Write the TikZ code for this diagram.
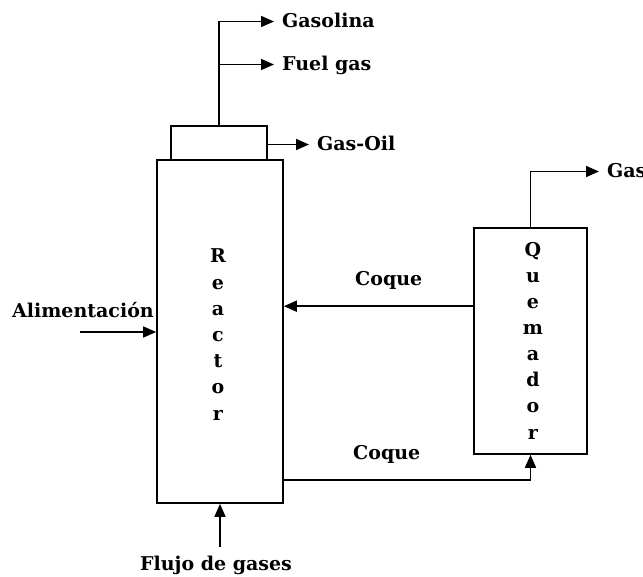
\documentclass[tikz,border=0pt]{standalone}
\usepackage{fontspec}
\setmainfont{DejaVu Serif}
\usetikzlibrary{positioning,arrows.meta,calc}
\tikzset{
  unidad/.style={draw,line width=1.6pt,inner sep=0pt},
  flujo/.style={-{Triangle[length=13pt,width=11pt]},line width=1.6pt},
  etiqueta/.style={font=\bfseries\fontsize{19}{23}\selectfont,text height=13pt,text depth=0pt,inner ysep=0pt,inner xsep=8pt},
  letra/.style={font=\bfseries\fontsize{19}{23}\selectfont,anchor=base,inner sep=0pt}}

\begin{document}
\begin{tikzpicture}[x=1pt,y=-1pt]
  \useasboundingbox (0,0) rectangle (643,577);
  % unidades
  \node[unidad,minimum width=126pt,minimum height=343pt] (reactor) at (220,331.5) {};
  \node[unidad,minimum width=96pt,minimum height=34pt] (cabeza) at (219,143) {};
  \node[unidad,minimum width=113pt,minimum height=226pt] (quemador) at (530.5,341) {};
  \foreach \l [count=\i] in {R,e,a,c,t,o,r}
    \node[letra] (r\i) at (218,263+26.2*\i-26.2) {\l};
  \foreach \l [count=\i] in {Q,u,e,m,a,d,o,r}
    \node[letra] (q\i) at (533,257+26*\i-26) {\l};
  % etiquetas
  \node[etiqueta,anchor=west] (gasolina) at (274,21.5) {Gasolina};
  \node[etiqueta,anchor=west] (fuel) at (274,64.5) {Fuel gas};
  \node[etiqueta,anchor=west] (gasoil) at (309,144.5) {Gas-Oil};
  \node[etiqueta,anchor=west] (gas) at (599,171.5) {Gas};
  \node[etiqueta,anchor=base west,inner xsep=0pt] (alim) at (12,318) {Alimentación};
  \node[etiqueta,anchor=base west,inner xsep=0pt] (coque1) at (355,286) {Coque};
  \node[etiqueta,anchor=base west,inner xsep=0pt] (coque2) at (353,459) {Coque};
  \node[etiqueta,anchor=north,inner ysep=10pt] (gases) at (216,547) {Flujo de gases};
  % conexiones
  \draw[flujo] (cabeza.north) |- (gasolina.west);
  \draw[flujo] (cabeza.north |- fuel.west) -- (fuel.west);
  \draw[flujo] (cabeza.east |- gasoil.west) -- (gasoil.west);
  \draw[flujo] (quemador.north) |- (gas.west);
  \coordinate (q0) at ([yshift=-79pt]quemador.north west);
  \draw[flujo] (q0) -- (q0 -| reactor.east);
  \draw[flujo] ([yshift=24pt]reactor.south east) -| (quemador.south);
  \draw[flujo] (reactor.south |- gases.north) -- (reactor.south);
  \coordinate (a0) at (80,332);
  \draw[flujo] (a0) -- (a0 -| reactor.west);
\end{tikzpicture}
\end{document}
